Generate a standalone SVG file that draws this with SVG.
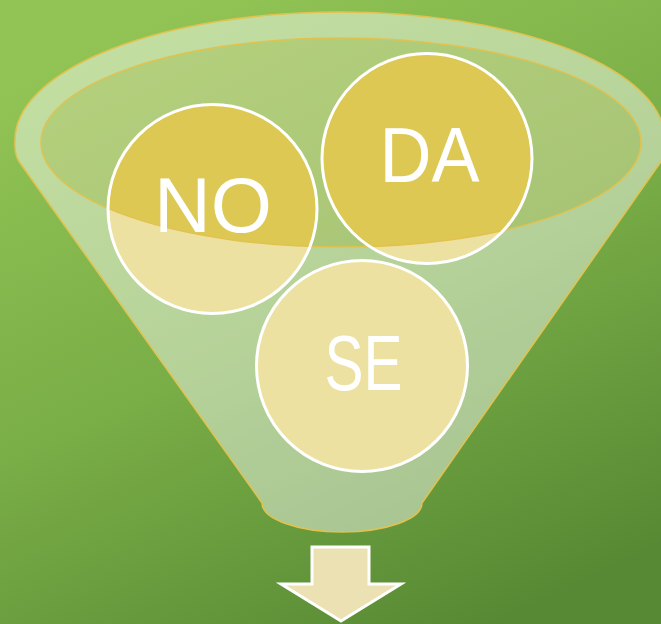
<svg xmlns="http://www.w3.org/2000/svg" width="661" height="624" viewBox="0 0 661 624">
  <defs>
    <linearGradient id="bg" x1="0.25" y1="0" x2="0.75" y2="1">
      <stop offset="0" stop-color="#92c455"/>
      <stop offset="0.5" stop-color="#79ad46"/>
      <stop offset="1" stop-color="#578934"/>
    </linearGradient>
    <style>
      .circ { fill: #dcc853; }
      .ring { fill: none; stroke: #ffffff; stroke-width: 3; }
      .lbl { font-family: "Liberation Sans", "DejaVu Sans", sans-serif; font-size: 78px; fill: #ffffff; text-anchor: middle; }
      .gold { fill: none; stroke: #e2c24e; stroke-width: 1.5; }
    </style>
  </defs>
  <rect x="0" y="0" width="661" height="624" fill="url(#bg)"/>

  <!-- funnel opening fill -->
  <ellipse cx="341" cy="142.5" rx="300" ry="104.5" fill="#d8dea6" fill-opacity="0.5"/>

  <!-- circles (solid gold) -->
  <g id="circle-no"><circle class="circ" cx="212.5" cy="209" r="104.5"/></g>
  <g id="circle-da"><circle class="circ" cx="427" cy="158.5" r="105"/></g>
  <g id="circle-se"><circle class="circ" cx="362" cy="366" r="105.5"/></g>

  <!-- funnel body with opening cut out -->
  <g id="funnel">
    <path fill="#ffffff" fill-opacity="0.45" fill-rule="evenodd" d="M 20 163 Q 14 155 15 140 A 325 128 0 0 1 665 140 Q 666 155 660 163 L 422 503 A 80 29 0 0 1 262 503 Z M 41 142.5 A 300 104.5 0 1 0 641 142.5 A 300 104.5 0 1 0 41 142.5 Z"/>
    <path class="gold" d="M 20 163 Q 14 155 15 140 A 325 128 0 0 1 665 140 Q 666 155 660 163 L 422 503 A 80 29 0 0 1 262 503 Z"/>
    <ellipse class="gold" cx="341" cy="142.5" rx="300" ry="104.5"/>
  </g>

  <!-- circle outlines and labels -->
  <g id="node-no">
    <circle class="ring" cx="212.5" cy="209" r="104.5"/>
    <text class="lbl" x="213" y="232" textLength="118" lengthAdjust="spacingAndGlyphs">NO</text>
  </g>
  <g id="node-da">
    <circle class="ring" cx="427" cy="158.5" r="105"/>
    <text class="lbl" x="429.5" y="182" textLength="100" lengthAdjust="spacingAndGlyphs">DA</text>
  </g>
  <g id="node-se">
    <circle class="ring" cx="362" cy="366" r="105.5"/>
    <text class="lbl" x="363.5" y="390" textLength="78" lengthAdjust="spacingAndGlyphs">SE</text>
  </g>

  <g id="connectors">
    <path d="M 312 547 L 369 547 L 369 584 L 401 584 L 341 621 L 281 584 L 312 584 Z" fill="#ece1b3" stroke="#ffffff" stroke-width="3" stroke-linejoin="miter"/>
  </g>
</svg>
